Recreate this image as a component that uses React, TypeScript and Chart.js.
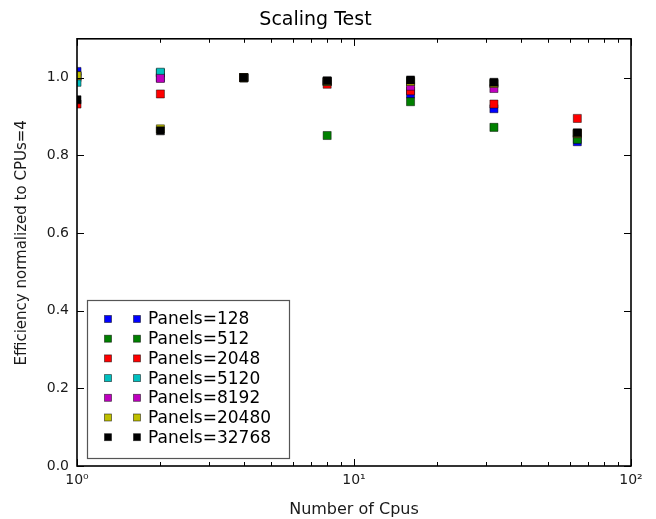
import React, { useEffect, useRef } from 'react';
import { Chart, registerables } from 'chart.js';

Chart.register(...registerables);

const CPUS = [1, 2, 4, 8, 16, 32, 64];
const SERIES_LABELS = [
  'Panels=128',
  'Panels=512',
  'Panels=2048',
  'Panels=5120',
  'Panels=8192',
  'Panels=20480',
  'Panels=32768',
];
const EFF_128 = [1.016, 1.0, 1.0, 0.99, 0.958, 0.92, 0.835];
const EFF_512 = [1.0, 1.012, 1.0, 0.851, 0.938, 0.872, 0.841];
const EFF_2048 = [0.932, 0.958, 1.0, 0.983, 0.966, 0.932, 0.895];
const EFF_5120 = [0.988, 1.014, 1.0, 0.99, 0.99, 0.985, 0.856];
const EFF_8192 = [1.005, 0.998, 1.0, 0.99, 0.978, 0.972, 0.856];
const EFF_20480 = [1.005, 0.868, 1.0, 0.99, 0.99, 0.985, 0.856];
const EFF_32768 = [0.943, 0.863, 1.0, 0.992, 0.994, 0.988, 0.858];
const SERIES_VALUES = [EFF_128, EFF_512, EFF_2048, EFF_5120, EFF_8192, EFF_20480, EFF_32768];
const COLORS = ['#0000ff', '#008000', '#ff0000', '#00bfbf', '#bf00bf', '#bfbf00', '#000000'];

const Y_TICKS = [0.0, 0.2, 0.4, 0.6, 0.8, 1.0];
const X_TICKS = [1, 10, 100];
const X_TICK_LABELS = ['10\u2070', '10\u00b9', '10\u00b2'];

const FONT = 'DejaVu Sans';

const frameAndTicks = {
  id: 'frameAndTicks',
  afterDatasetsDraw(chart: any) {
    const { ctx, chartArea: a, scales } = chart;
    const xs = scales.x;
    const ys = scales.y;
    ctx.save();
    ctx.strokeStyle = '#000';
    ctx.lineWidth = 1;
    ctx.beginPath();
    for (let d = 1; d < 100; d *= 10) {
      for (let m = 1; m <= 10; m++) {
        const v = d * m;
        const px = Math.round(xs.getPixelForValue(v)) + 0.5;
        const len = m === 1 || m === 10 ? 7 : 4;
        ctx.moveTo(px, a.bottom);
        ctx.lineTo(px, a.bottom - len);
        ctx.moveTo(px, a.top);
        ctx.lineTo(px, a.top + len);
      }
    }
    for (const v of Y_TICKS) {
      const py = Math.round(ys.getPixelForValue(v)) + 0.5;
      ctx.moveTo(a.left, py);
      ctx.lineTo(a.left + 7, py);
      ctx.moveTo(a.right, py);
      ctx.lineTo(a.right - 7, py);
    }
    ctx.stroke();
    ctx.lineWidth = 1.6;
    ctx.strokeRect(a.left, a.top, a.right - a.left, a.bottom - a.top);
    ctx.restore();
  },
  afterDraw(chart: any) {
    const { ctx, chartArea: a } = chart;
    const w = 202;
    const h = 158;
    const lx = a.left + 10;
    const ly = a.bottom - 8 - h;
    ctx.save();
    ctx.fillStyle = '#fff';
    ctx.fillRect(lx, ly, w, h);
    ctx.strokeStyle = '#555';
    ctx.lineWidth = 1.2;
    ctx.strokeRect(lx + 0.5, ly + 0.5, w, h);
    ctx.font = `17px "${FONT}"`;
    ctx.textBaseline = 'middle';
    ctx.textAlign = 'left';
    chart.data.datasets.forEach((ds: any, i: number) => {
      const cy = ly + 19 + i * 19.7;
      const s = 7;
      for (const mx of [lx + 21, lx + 50]) {
        ctx.fillStyle = ds.backgroundColor;
        ctx.fillRect(mx - s / 2, cy - s / 2, s, s);
        ctx.strokeStyle = 'rgba(0,0,0,0.6)';
        ctx.lineWidth = 0.8;
        ctx.strokeRect(mx - s / 2, cy - s / 2, s, s);
      }
      ctx.fillStyle = '#000';
      ctx.fillText(ds.label, lx + 61, cy + 1);
    });
    ctx.restore();
  },
};

export default function App() {
  const ref = useRef<HTMLCanvasElement | null>(null);

  useEffect(() => {
    if (!ref.current) return;
    const datasets = SERIES_LABELS.map((label, i) => ({
      label,
      data: CPUS.map((c, j) => ({ x: c, y: SERIES_VALUES[i][j] })),
      backgroundColor: COLORS[i],
      borderColor: 'rgba(0,0,0,0.6)',
      borderWidth: 0.8,
      pointStyle: 'rect',
      pointRadius: 5.7,
      pointHoverRadius: 5.7,
      showLine: false,
      clip: 0,
      order: SERIES_LABELS.length - 1 - i,
    }));
    const chart = new Chart(ref.current, {
      type: 'scatter',
      data: { datasets },
      options: {
        animation: false,
        responsive: true,
        maintainAspectRatio: false,
        layout: { padding: { top: 0, right: 25, bottom: 0, left: 0 } },
        plugins: {
          legend: { display: false },
          tooltip: { enabled: false },
          title: {
            display: true,
            text: 'Scaling Test',
            color: '#000',
            font: { family: FONT, size: 19, weight: 'normal' },
            padding: { top: 9, bottom: 7 },
          },
        },
        scales: {
          x: {
            type: 'logarithmic',
            min: 1,
            max: 100,
            grid: { display: false, drawTicks: false },
            border: { display: false },
            afterBuildTicks: (s: any) => {
              s.ticks = X_TICKS.map((v) => ({ value: v }));
            },
            afterFit: (s: any) => {
              s.height = 53;
            },
            ticks: {
              autoSkip: false,
              maxRotation: 0,
              padding: 6,
              color: '#1a1a1a',
              font: { family: FONT, size: 14 },
              callback: (v: any) => {
                const idx = X_TICKS.indexOf(Number(v));
                return idx >= 0 ? X_TICK_LABELS[idx] : '';
              },
            },
            title: {
              display: true,
              text: 'Number of Cpus',
              color: '#1a1a1a',
              font: { family: FONT, size: 16 },
              padding: { top: 0, bottom: 0 },
            },
          },
          y: {
            type: 'linear',
            min: 0,
            max: 1.1,
            grid: { display: false, drawTicks: false },
            border: { display: false },
            afterBuildTicks: (s: any) => {
              s.ticks = Y_TICKS.map((v) => ({ value: v }));
            },
            afterFit: (s: any) => {
              s.width = 77;
            },
            ticks: {
              padding: 8,
              color: '#1a1a1a',
              font: { family: FONT, size: 14 },
              callback: (v: any) => Number(v).toFixed(1),
            },
            title: {
              display: true,
              text: '    Efficiency normalized to CPUs=4',
              color: '#1a1a1a',
              font: { family: FONT, size: 15 },
              padding: { top: 13, bottom: 0 },
            },
          },
        },
      },
      plugins: [frameAndTicks],
    });
    return () => chart.destroy();
  }, []);

  return (
    <div
      style={{
        position: 'fixed',
        left: 0,
        top: 0,
        width: 656,
        height: 519,
        background: '#fff',
      }}
    >
      <canvas ref={ref} />
    </div>
  );
}
